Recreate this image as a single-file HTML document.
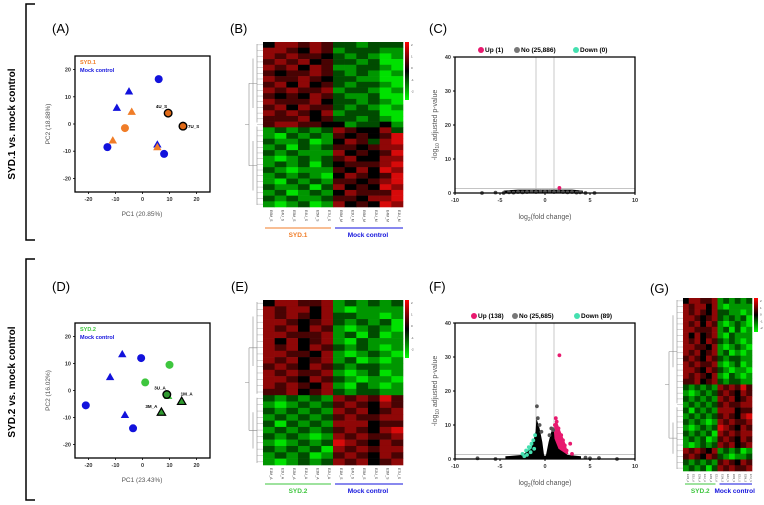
<!DOCTYPE html>
<html><head><meta charset="utf-8"><style>
html,body{margin:0;padding:0;background:#fff;}
svg{display:block;font-family:"Liberation Sans",sans-serif;}
</style></head><body>
<svg id="fig" width="764" height="505" viewBox="0 0 764 505" xmlns="http://www.w3.org/2000/svg">
<g id="static">
  <path d="M35 4 H26 V240 H35" fill="none" stroke="#000" stroke-width="1.5"/>
  <path d="M35 259 H26 V500 H35" fill="none" stroke="#000" stroke-width="1.5"/>
  <text transform="translate(15,124) rotate(-90)" text-anchor="middle" font-size="10" font-weight="bold">SYD.1 vs. mock control</text>
  <text transform="translate(15,382) rotate(-90)" text-anchor="middle" font-size="10" font-weight="bold">SYD.2 vs. mock control</text>
  <text x="52" y="33" font-size="13">(A)</text>
  <text x="230" y="33" font-size="13">(B)</text>
  <text x="429" y="33" font-size="13">(C)</text>
  <text x="52" y="291" font-size="13">(D)</text>
  <text x="231" y="291" font-size="13">(E)</text>
  <text x="429" y="291" font-size="13">(F)</text>
  <text x="650" y="293" font-size="13">(G)</text>
</g>
</svg>
<script>
// ---------- DATA ----------
// PCA A (SYD.1)
const pcaA_blueCircleX=[6,-13,8], pcaA_blueCircleY=[16.5,-8.5,-11];
const pcaA_blueTriX=[-5,-9.5,5.5], pcaA_blueTriY=[12,6,-7.5];
const pcaA_grpTriX=[-4,-11,5.5], pcaA_grpTriY=[4.5,-6,-8.5];
const pcaA_grpCircleX=[-6.5], pcaA_grpCircleY=[-1.5];
const pcaA_outCircleX=[9.5,15], pcaA_outCircleY=[4,-0.8], pcaA_outCircleLab=["4U_S","7U_S"];
const pcaA_outTriX=[], pcaA_outTriY=[], pcaA_outTriLab=[];
// PCA D (SYD.2)
const pcaD_blueCircleX=[-0.5,-21,-3.5], pcaD_blueCircleY=[12,-5.5,-14];
const pcaD_blueTriX=[-7.5,-12,-6.5], pcaD_blueTriY=[13.5,5,-9];
const pcaD_grpTriX=[9.5], pcaD_grpTriY=[-2];
const pcaD_grpCircleX=[10,1], pcaD_grpCircleY=[9.5,3];
const pcaD_outCircleX=[9], pcaD_outCircleY=[-1.5], pcaD_outCircleLab=["3U_A"];
const pcaD_outTriX=[7,14.5], pcaD_outTriY=[-8,-4], pcaD_outTriLab=["3M_A","1M_A"];
const pcaTicks=[-20,-10,0,10,20];
// Volcano
const volXTicks=[-10,-5,0,5,10], volYTicks=[0,10,20,30,40];
const volC_upX=[1.6], volC_upY=[1.5];
const volC_noX=[-7,-5.5,-4.6,-4,-3.5,-3,-2.5,-2,-1.5,-1,-0.5,0,0.5,1,1.5,2,2.5,3,3.5,3.9,4.5,5.5], volC_noY=[0,0.1,0,0.2,0.1,0.3,0.2,0.3,0.4,0.3,0.5,0.4,0.5,0.3,0.4,0.3,0.2,0.3,0.1,0.2,0,0];
const volF_upX=[1.6,1.2,1.3,1.5,1.8,2.0,2.2,2.8,1.1,1.4,1.7,2.4,1.9,3.0], volF_upY=[30.5,12,11,9,7,5.5,4,4.5,10,8,6,2.5,3,1.5];
const volF_downX=[-1.1,-1.3,-1.5,-1.8,-2.1,-2.5,-1.2,-1.6,-2.0,-2.3], volF_downY=[7,5.5,4.5,3.5,2.5,1.5,3,2,1.2,0.8];
const volF_noX=[-0.9,-0.8,-0.6,-0.4,0.5,0.7,0.9,-7.5,-5.5,6,8,4.5,5], volF_noY=[15.5,12,10,8,7,9,8.5,0.2,0,0.3,0,0.4,0.2];
const cloudF_X=[-4.4,-2.5,-1.5,-1.05,-0.95,-0.6,-0.3,-0.1,0.1,0.4,0.7,0.95,1.05,1.5,2.5,4.0,4.0,-4.4];
const cloudF_Y=[0.8,1.2,3,8,12,9,5,1,1,5,8,9.5,6,3,1.2,0.8,0,0];
const cloudFup_X=[1.0,1.2,1.6,2.2,2.6,2.0,1.0], cloudFup_Y=[9,12,9,5,1.5,1,1];
const cloudFdown_X=[-1.0,-1.2,-1.7,-2.4,-2.0,-1.0], cloudFdown_Y=[7,6,3.5,1.2,1,1];
const cloudC_X=[-4.6,-3,3,4.2,4.2,-4.6], cloudC_Y=[0.7,1.0,1.0,0.7,0,0];
// Heatmaps: digits 0..6 -> value -3..3
const heatB=["355454221222","554354122211","545443212101","454534221200","545354112210","434454212101","544543221100","453534212210","545445122101","434354211200","544453221210","453544212101","545435122200","444534221210","455443312231","121212543352","102121434346","211201354256","120212443455","212111534346","101212453355","121202344456","210111435365","121210354346","102121443456","211202534365","120121354446","212112443556","101201534365"];
const heatE=["355445121212","545535101111","545435221101","554345212120","545354101210","554445120201","535345102111","545354212101","554435101210","545345120101","454354212211","545445101201","554354210110","545435102101","445345212211","212121545464","101212454354","212121545345","121212454455","202121555344","121212454356","212101545445","101212654354","212120545455","121201454354","101212545345"];
const heatG=heatE.concat(["545435121201","454354210112","212121454354","121202545445"]);
const colB=["E6M_S","E4U_S","E5M_S","E4U_S","E5M_S","E7U_S","E6M_M","E3U_M","E6M_M","E2U_M","E4M_M","E1U_M"];
const colE=["E1M_A","E3U_A","E2M_A","E1U_A","E3M_A","E2U_A","E1M_S","E4U_S","E5M_S","E2U_S","E3M_S","E7U_S"];
// ---------- DRAW ----------
const NS="http://www.w3.org/2000/svg", svg=document.getElementById('fig');
function el(t,a,p){const e=document.createElementNS(NS,t);for(const k in a)e.setAttribute(k,a[k]);(p||svg).appendChild(e);return e;}
function lin(d0,d1,r0,r1){return v=>r0+(v-d0)*(r1-r0)/(d1-d0);}
const ORANGE="#f07d28",BLUE="#1212dc",GREEN="#3ec63e",PINK="#e8196e",TEAL="#45e0b0";

function pca(cfg){
  const g=el('g',{});
  
  
  const sx=lin(-25,25,75,210), sy=lin(-25,25,cfg.bot,cfg.top);
  const D=cfg.d;
  pcaTicks.forEach(t=>{
    const a=el('text',{x:sx(t),y:cfg.bot+9,'font-size':5.5,'font-weight':'bold','text-anchor':'middle',fill:'#333'},g);a.textContent=t;
    
    
    el('line',{x1:sx(t),x2:sx(t),y1:cfg.bot,y2:cfg.bot+2,stroke:'#000','stroke-width':0.8},g);
    const b=el('text',{x:71,y:sy(t)+2,'font-size':5.5,'font-weight':'bold','text-anchor':'end',fill:'#333'},g);b.textContent=t;
    
    
    el('line',{x1:73,x2:75,y1:sy(t),y2:sy(t),stroke:'#000','stroke-width':0.8},g);
  });
  const tri=(x,y,c,s,sw)=>{const X=sx(x),Y=sy(y),r=4.2;return el('polygon',{points:`${X},${Y-r} ${X+r},${Y+r*0.75} ${X-r},${Y+r*0.75}`,fill:c,stroke:s||'none','stroke-width':sw||0},g);};
  D.bcX.forEach((x,i)=>{const c=el('circle',{cx:sx(x),cy:sy(D.bcY[i]),r:4,fill:BLUE},g);});
  D.btX.forEach((x,i)=>{const c=tri(x,D.btY[i],BLUE);});
  D.gtX.forEach((x,i)=>{const c=tri(x,D.gtY[i],cfg.col);});
  D.gcX.forEach((x,i)=>{const c=el('circle',{cx:sx(x),cy:sy(D.gcY[i]),r:4,fill:cfg.col},g);});
  D.ocX.forEach((x,i)=>{const c=el('circle',{cx:sx(x),cy:sy(D.ocY[i]),r:3.8,fill:cfg.dark,stroke:'#000','stroke-width':1.4},g);
    const right=(i==1&&cfg.name=='pca-plot-a');
    const t=el('text',{x:sx(x)+(right?5:-1),y:sy(D.ocY[i])+(right?2:-5),'font-size':4.5,'font-weight':'bold','text-anchor':right?'start':'end'},g);t.textContent=D.ocL[i];});
  D.otX.forEach((x,i)=>{const c=tri(x,D.otY[i],cfg.dark,'#000',1.2);
    const right=i==1;const t=el('text',{x:sx(x)+(right?-1:-4),y:sy(D.otY[i])-(right?6:4),'font-size':4.5,'font-weight':'bold','text-anchor':right?'start':'end'},g);t.textContent=D.otL[i];});
  el('rect',{x:75,y:cfg.top,width:135,height:cfg.bot-cfg.top,fill:'none',stroke:'#000','stroke-width':1.3},g);
  const l1=el('text',{x:80,y:cfg.top+8,'font-size':5.5,'font-weight':'bold',fill:cfg.col},g);l1.textContent=cfg.grp;
  const l2=el('text',{x:80,y:cfg.top+16,'font-size':5.5,'font-weight':'bold',fill:BLUE},g);l2.textContent='Mock control';
  const xt=el('text',{x:142,y:cfg.bot+24,'font-size':6.5,'text-anchor':'middle',fill:'#555'},g);xt.textContent=cfg.xt;
  const yt=el('text',{transform:`translate(50,${(cfg.top+cfg.bot)/2}) rotate(-90)`,'font-size':6.5,'text-anchor':'middle',fill:'#555'},g);yt.textContent=cfg.yt;
}
pca({name:'pca-plot-a',top:56,bot:192,col:ORANGE,dark:'#e06a18',grp:'SYD.1',xt:'PC1 (20.85%)',yt:'PC2 (18.88%)',
 d:{bcX:pcaA_blueCircleX,bcY:pcaA_blueCircleY,btX:pcaA_blueTriX,btY:pcaA_blueTriY,gtX:pcaA_grpTriX,gtY:pcaA_grpTriY,gcX:pcaA_grpCircleX,gcY:pcaA_grpCircleY,ocX:pcaA_outCircleX,ocY:pcaA_outCircleY,ocL:pcaA_outCircleLab,otX:pcaA_outTriX,otY:pcaA_outTriY,otL:pcaA_outTriLab}});
pca({name:'pca-plot-d',top:323,bot:458,col:GREEN,dark:'#2f9a2f',grp:'SYD.2',xt:'PC1 (23.43%)',yt:'PC2 (16.02%)',
 d:{bcX:pcaD_blueCircleX,bcY:pcaD_blueCircleY,btX:pcaD_blueTriX,btY:pcaD_blueTriY,gtX:pcaD_grpTriX,gtY:pcaD_grpTriY,gcX:pcaD_grpCircleX,gcY:pcaD_grpCircleY,ocX:pcaD_outCircleX,ocY:pcaD_outCircleY,ocL:pcaD_outCircleLab,otX:pcaD_outTriX,otY:pcaD_outTriY,otL:pcaD_outTriLab}});

function volcano(cfg){
  const g=el('g',{});
  
  
  const sx=lin(-10,10,455,635), sy=lin(0,40,cfg.bot,cfg.top);
  [-1,1].forEach(v=>el('line',{x1:sx(v),x2:sx(v),y1:cfg.top,y2:cfg.bot,stroke:'#bbb','stroke-width':0.8},g));
  el('line',{x1:455,x2:635,y1:sy(1.3),y2:sy(1.3),stroke:'#bbb','stroke-width':0.8},g);
  const poly=(X,Y,c,n)=>{const p=el('polygon',{points:X.map((x,i)=>sx(x)+','+sy(Y[i])).join(' '),fill:c},g);};
  if(cfg.cdx){poly(cfg.cdx,cfg.cdy,TEAL,'down-cloud');poly(cfg.cux,cfg.cuy,PINK,'up-cloud');}
  poly(cfg.cx,cfg.cy,'#000','no-change-cloud');
  const pts=(X,Y,c,n)=>X.forEach((x,i)=>{const p=el('circle',{cx:sx(x),cy:sy(Y[i]),r:1.9,fill:c},g);});
  pts(cfg.nx,cfg.ny,'#555','point-no-change');
  if(cfg.dx)pts(cfg.dx,cfg.dy,TEAL,'point-down');
  pts(cfg.ux,cfg.uy,PINK,'point-up');
  el('path',{d:`M455 ${cfg.top} V${cfg.bot} H635 V${cfg.top} Z`,fill:'none',stroke:'#000','stroke-width':1.3},g);
  volXTicks.forEach(t=>{el('line',{x1:sx(t),x2:sx(t),y1:cfg.bot,y2:cfg.bot+2,stroke:'#000'},g);
    const a=el('text',{x:sx(t),y:cfg.bot+9,'font-size':5.5,'font-weight':'bold','text-anchor':'middle',fill:'#333'},g);a.textContent=t;});
  volYTicks.forEach(t=>{el('line',{x1:453,x2:455,y1:sy(t),y2:sy(t),stroke:'#000'},g);
    const a=el('text',{x:451,y:sy(t)+2,'font-size':5.5,'font-weight':'bold','text-anchor':'end',fill:'#333'},g);a.textContent=t;});
  const xt=el('text',{x:545,y:cfg.bot+26,'font-size':7,'text-anchor':'middle',fill:'#555'},g);
  xt.innerHTML='log<tspan font-size="5" dy="2">2</tspan><tspan dy="-2">(fold change)</tspan>';
  
  const yt=el('text',{transform:`translate(437,${(cfg.top+cfg.bot)/2}) rotate(-90)`,'font-size':7,'text-anchor':'middle',fill:'#555'},g);
  yt.innerHTML='-log<tspan font-size="5" dy="2">10</tspan><tspan dy="-2"> adjusted p-value</tspan>';
  
  const L=[[PINK,cfg.l[0]],['#777',cfg.l[1]],[TEAL,cfg.l[2]]];
  L.forEach((e,i)=>{const x=cfg.lx[i];const c=el('circle',{cx:x,cy:cfg.top-7,r:3,fill:e[0]},g);
    const t=el('text',{x:x+4,y:cfg.top-4.8,'font-size':6.5,'font-weight':'bold'},g);t.textContent=e[1];});
}
volcano({name:'volcano-plot-c',top:57,bot:193,cx:cloudC_X,cy:cloudC_Y,nx:volC_noX,ny:volC_noY,ux:volC_upX,uy:volC_upY,l:['Up (1)','No (25,886)','Down (0)'],lx:[481,517,576]});
volcano({name:'volcano-plot-f',top:323,bot:459,cx:cloudF_X,cy:cloudF_Y,cux:cloudFup_X,cuy:cloudFup_Y,cdx:cloudFdown_X,cdy:cloudFdown_Y,nx:volF_noX,ny:volF_noY,ux:volF_upX,uy:volF_upY,dx:volF_downX,dy:volF_downY,l:['Up (138)','No (25,685)','Down (89)'],lx:[474,515,577]});

function heat(cfg){
  const g=el('g',{});
  
  
  const M=cfg.m, nr=M.length, nc=12, cw=(cfg.x1-cfg.x0)/nc, rh=(cfg.y1-cfg.y0)/nr;
  const col=v=>v>=0?`rgb(${Math.round(v/3*215)},${Math.round(v/3*10)},${Math.round(v/3*10)})`:`rgb(0,${Math.round(-v/3*225)},0)`;
  M.forEach((row,r)=>{for(let c=0;c<nc;c++){const v=+row[c]-3;
    const cell=el('rect',{x:cfg.x0+c*cw,y:cfg.y0+r*rh,width:cw+0.3,height:rh+0.3,fill:col(v)},g);
    
    }
    el('line',{x1:cfg.x0-6,x2:cfg.x0,y1:cfg.y0+(r+0.5)*rh,y2:cfg.y0+(r+0.5)*rh,stroke:'#999','stroke-width':0.4},g);});
  const dx=cfg.x0, h=cfg.y1-cfg.y0, mid=cfg.y0+h*cfg.split;
  el('path',{d:`M${dx-6} ${cfg.y0+2} V${mid-2} M${dx-6} ${mid+2} V${cfg.y1-2} M${dx-6} ${(cfg.y0+mid)/2} H${dx-14} M${dx-6} ${(mid+cfg.y1)/2} H${dx-14} M${dx-14} ${(cfg.y0+mid)/2} V${(mid+cfg.y1)/2} M${dx-14} ${(cfg.y0+cfg.y1)/2} H${dx-18} M${dx-10} ${cfg.y0+h*0.1} V${cfg.y0+h*0.4} M${dx-10} ${mid+h*0.1} V${cfg.y1-h*0.1}`,stroke:'#888','stroke-width':0.6,fill:'none'},g);
  const cb=el('rect',{x:cfg.x1+2,y:cfg.y0,width:4,height:cfg.cbh,fill:'url(#cbgrad)'},g);
  
  [2,1,0,-1,-2].forEach((t,i)=>{const a=el('text',{x:cfg.x1+8,y:cfg.y0+4+i*cfg.cbh/5,'font-size':3,fill:'#444'},g);a.textContent=t;});
  cfg.cl.forEach((s,c)=>{const t=el('text',{transform:`translate(${cfg.x0+(c+0.5)*cw+1},${cfg.y1+3}) rotate(90)`,'font-size':cfg.fs,fill:'#444'},g);t.textContent=s;});
  const half=(cfg.x1-cfg.x0)/2;
  el('line',{x1:cfg.x0+2,x2:cfg.x0+half-2,y1:cfg.ly,y2:cfg.ly,stroke:cfg.gc,'stroke-width':1},g);
  el('line',{x1:cfg.x0+half+2,x2:cfg.x1,y1:cfg.ly,y2:cfg.ly,stroke:BLUE,'stroke-width':1},g);
  const a=el('text',{x:cfg.x0+half/2,y:cfg.ly+9,'font-size':cfg.gfs,'font-weight':'bold','text-anchor':'middle',fill:cfg.gc},g);a.textContent=cfg.g;
  const b=el('text',{x:cfg.x0+half*1.5,y:cfg.ly+9,'font-size':cfg.gfs,'font-weight':'bold','text-anchor':'middle',fill:BLUE},g);b.textContent='Mock control';
}
const defs=el('defs',{});
const gr=el('linearGradient',{id:'cbgrad',x1:0,y1:0,x2:0,y2:1},defs);
el('stop',{offset:'0','stop-color':'#f00'},gr);el('stop',{offset:'0.5','stop-color':'#000'},gr);el('stop',{offset:'1','stop-color':'#0f0'},gr);
heat({name:'heatmap-b',m:heatB,x0:263,x1:403,y0:42,y1:207,split:0.5,cbh:58,cl:colB,fs:3.5,ly:228,gc:ORANGE,g:'SYD.1',gfs:6.5});
heat({name:'heatmap-e',m:heatE,x0:263,x1:403,y0:300,y1:465,split:0.58,cbh:58,cl:colE,fs:3.5,ly:484,gc:GREEN,g:'SYD.2',gfs:6.5});
heat({name:'heatmap-g',m:heatG,x0:683,x1:752,y0:298,y1:471,split:0.62,cbh:34,cl:colE,fs:2.5,ly:484,gc:GREEN,g:'SYD.2',gfs:6.5});
</script>
</body></html>
